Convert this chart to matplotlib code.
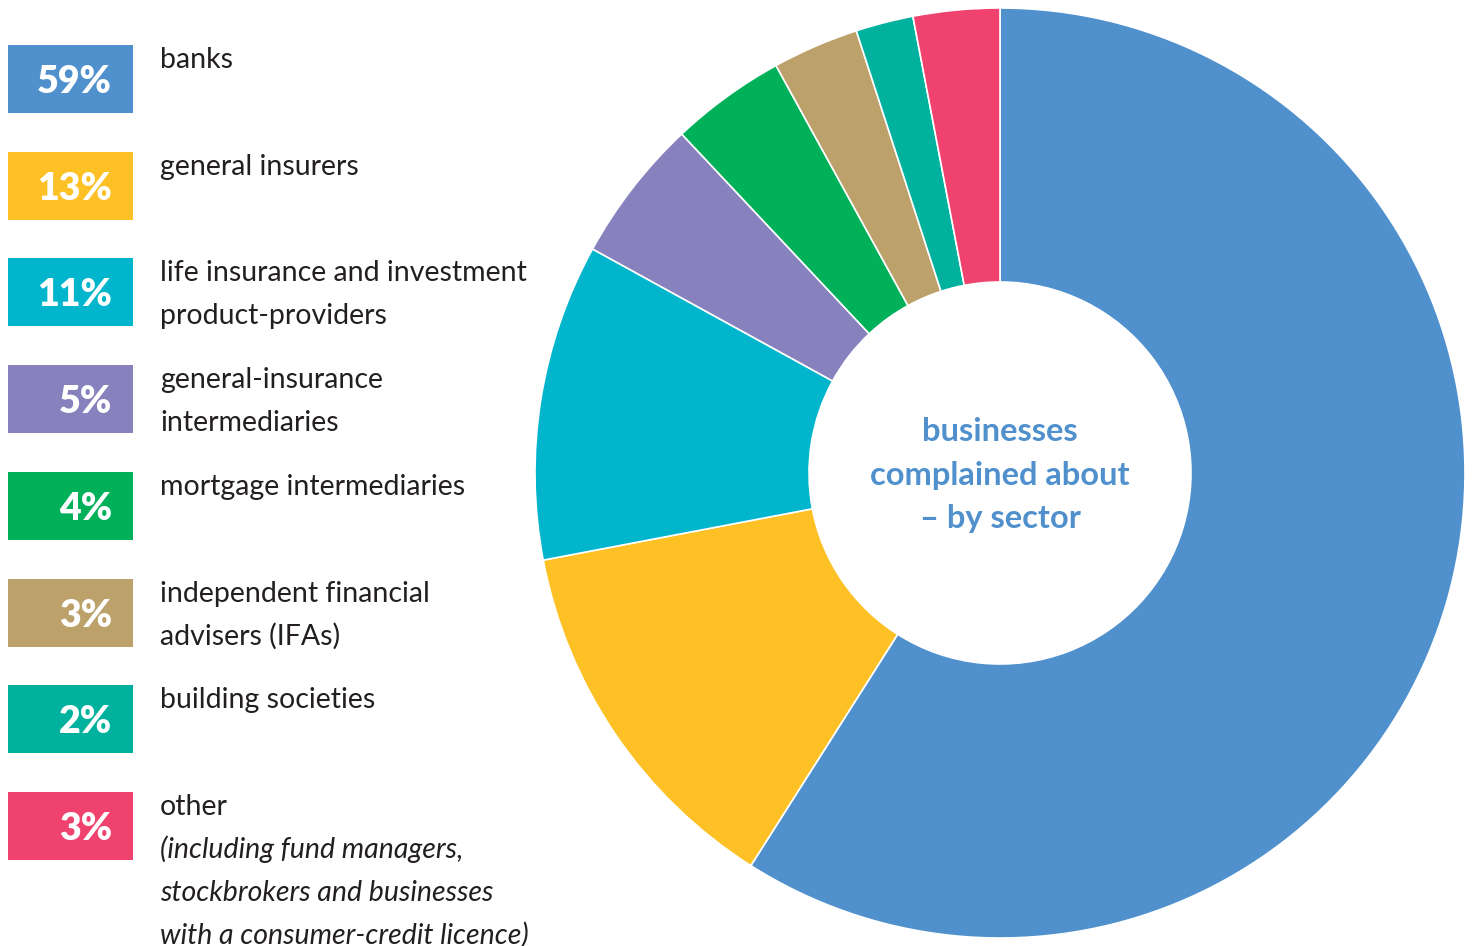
import matplotlib.pyplot as plt
from matplotlib.patches import Rectangle

# data
sectors = ["banks", "general insurers", "life insurance and investment\nproduct-providers",
           "general-insurance\nintermediaries", "mortgage intermediaries",
           "independent financial\nadvisers (IFAs)", "building societies", "other"]
shares = [59, 13, 11, 5, 4, 3, 2, 3]
colours = ["#4F90CD", "#FDC125", "#00B5CC", "#8781BD", "#00B159", "#BCA16B", "#00B29D", "#EF426F"]
other_note = ["(including fund managers,", "stockbrokers and businesses",
              "with a consumer-credit licence)"]
centre_title = ["businesses", "complained about", "\u2013 by sector"]

W, H = 1472, 946
plt.rcParams['font.family'] = ['Lato', 'DejaVu Sans']

fig = plt.figure(figsize=(W / 100, H / 100), dpi=100)

# background axes in pixel coords, used for the legend
bg = fig.add_axes([0, 0, 1, 1])
bg.set_xlim(0, W)
bg.set_ylim(H, 0)
bg.axis('off')

# donut: centre (1000, 473), outer radius ~465 px
cx, cy, r = 1000, 473, 465
ax = fig.add_axes([(cx - r) / W, (H - cy - r) / H, 2 * r / W, 2 * r / H])
ax.pie(shares, colors=colours, startangle=90, counterclock=False, radius=1,
       wedgeprops=dict(width=1 - 191 / r, edgecolor='white', linewidth=1.2))
ax.set_xlim(-1, 1)
ax.set_ylim(-1, 1)
ax.set_aspect('equal')
ax.axis('off')

for k, line in enumerate(centre_title):
    bg.text(cx, 441 + 43.5 * k, line, ha='center', va='baseline', fontsize=23.5,
            fontweight='bold', color="#4F90CD")

# legend
step = 106.7
gap = 43
for i, (name, pct, col) in enumerate(zip(sectors, shares, colours)):
    top = 45 + step * i
    bg.add_patch(Rectangle((8, top), 125, 68, color=col, lw=0))
    bg.text(112, top + 48, f"{pct}%", ha='right', va='baseline', fontsize=27,
            fontweight='heavy', color='white')
    lines = name.split("\n")
    for k, line in enumerate(lines):
        bg.text(160, top + 23 + gap * k, line, ha='left', va='baseline',
                fontsize=20.5, color='#231F20')
    if name == "other":
        for k, line in enumerate(other_note):
            bg.text(160, top + 23 + gap * (k + 1), line, ha='left', va='baseline',
                    fontsize=20.5, style='italic', color='#231F20')

fig.savefig("out.png", dpi=100)
